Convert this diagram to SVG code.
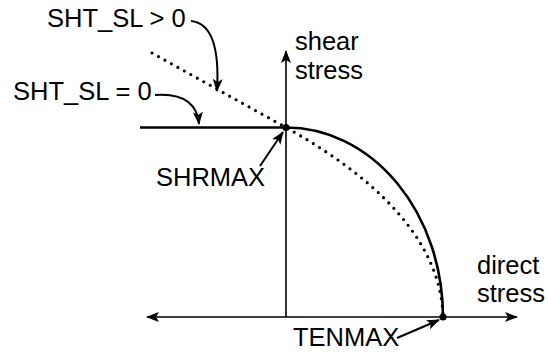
<svg xmlns="http://www.w3.org/2000/svg" width="548" height="354" viewBox="0 0 548 354">
<style>
text{font-family:"Liberation Sans",Arial,sans-serif;font-size:25.5px;fill:#000}
.ax{stroke:#000;stroke-width:1.6;fill:none}
.cv{stroke:#000;stroke-width:2.6;fill:none}
.dt{stroke:#000;stroke-width:3.2;fill:none;stroke-linecap:round;stroke-dasharray:0 7.4}
.ld{stroke:#000;stroke-width:2;fill:none}
</style>
<defs>
<marker id="ah" viewBox="0 0 13 10" refX="12" refY="5" markerWidth="13" markerHeight="10" markerUnits="userSpaceOnUse" orient="auto">
<path d="M0,0 L13,5 L0,10 L3,5 Z" fill="#000"/>
</marker>
<marker id="ah2" viewBox="0 0 13 10" refX="12" refY="5" markerWidth="13" markerHeight="10" markerUnits="userSpaceOnUse" orient="auto-start-reverse">
<path d="M0,0 L13,5 L0,10 L3,5 Z" fill="#000"/>
</marker>
</defs>
<g id="axes">
<line class="ax" x1="286" y1="317" x2="286" y2="51" marker-end="url(#ah)"/>
<line class="ax" x1="147" y1="317" x2="517" y2="317" marker-start="url(#ah2)" marker-end="url(#ah)"/>
</g>
<g id="curves">
<line class="cv" x1="140" y1="127.5" x2="286" y2="127.5"/>
<path class="cv" d="M286,127.5 A157,189.5 0 0 1 443,317"/>
<path class="dt" d="M152,53 L286,127.5 C366,172 441,235 443,317"/>
<circle cx="286" cy="127.5" r="3.6" fill="#000"/>
<circle cx="443" cy="317" r="3.6" fill="#000"/>
</g>
<g id="connectors">
<path class="ld" d="M191,21 Q221,24 217,91" marker-end="url(#ah)"/>
<path class="ld" d="M155,95 Q196,92 199,124" marker-end="url(#ah)"/>
<line class="ld" x1="260" y1="166" x2="283" y2="132" marker-end="url(#ah)"/>
<line class="ld" x1="397" y1="338" x2="439" y2="320" marker-end="url(#ah)"/>
</g>
<g id="labels">
<text x="47" y="27">SHT_SL &gt; 0</text>
<text x="13" y="100">SHT_SL = 0</text>
<text x="156" y="186">SHRMAX</text>
<text x="293" y="346">TENMAX</text>
<text x="295" y="50">shear</text>
<text x="295" y="79">stress</text>
<text x="477" y="274">direct</text>
<text x="477" y="302">stress</text>
</g>
</svg>
